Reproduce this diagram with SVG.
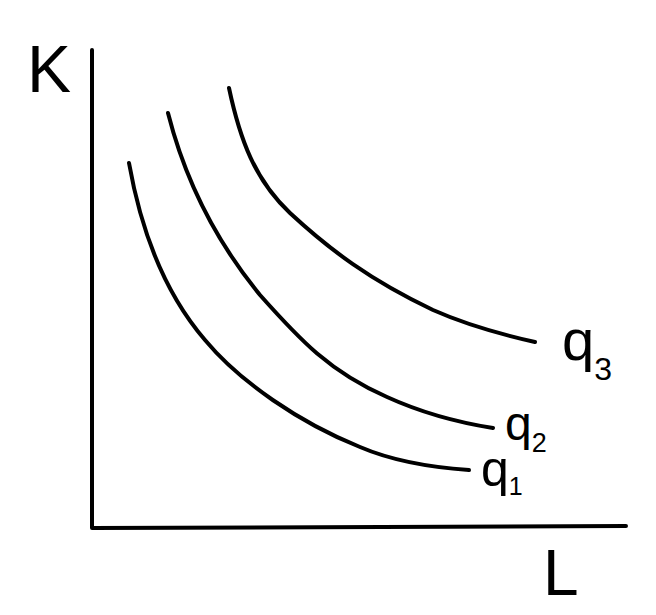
<svg xmlns="http://www.w3.org/2000/svg" width="656" height="615" viewBox="0 0 656 615">
<style>
.ln{fill:none;stroke:#000;stroke-width:4;stroke-linecap:round;stroke-linejoin:round}
.t{font-family:"Liberation Sans","DejaVu Sans",sans-serif;fill:#000}
</style>
<rect width="656" height="615" fill="#fff"/>
<g id="axes">
<path class="ln" d="M92,50 L92,528 L626,526"/>
<text class="t" x="27" y="92" font-size="66">K</text>
<text class="t" x="543" y="595" font-size="64">L</text>
</g>
<g id="connectors">
<path id="curve-q1" class="ln" d="M129,163 C140,225 162,290 205,340 C240,382 300,423 360,447 C395,462 440,468 469,470"/>
<path id="curve-q2" class="ln" d="M168,113 C185,180 215,240 260,295 C300,340 330,372 387,397 C420,412 455,422 493,428"/>
<path id="curve-q3" class="ln" d="M229,88 C240,140 255,180 290,213 C330,250 370,280 433,310 C460,322 495,333 535,342"/>
</g>
<g id="label-q3"><text class="t" x="562" y="360" font-size="58">q<tspan font-size="32" dy="20">3</tspan></text></g>
<g id="label-q2"><text class="t" x="505" y="440" font-size="48">q<tspan font-size="27" dy="12">2</tspan></text></g>
<g id="label-q1"><text class="t" x="481" y="486" font-size="50">q<tspan font-size="25" dy="9">1</tspan></text></g>
</svg>
